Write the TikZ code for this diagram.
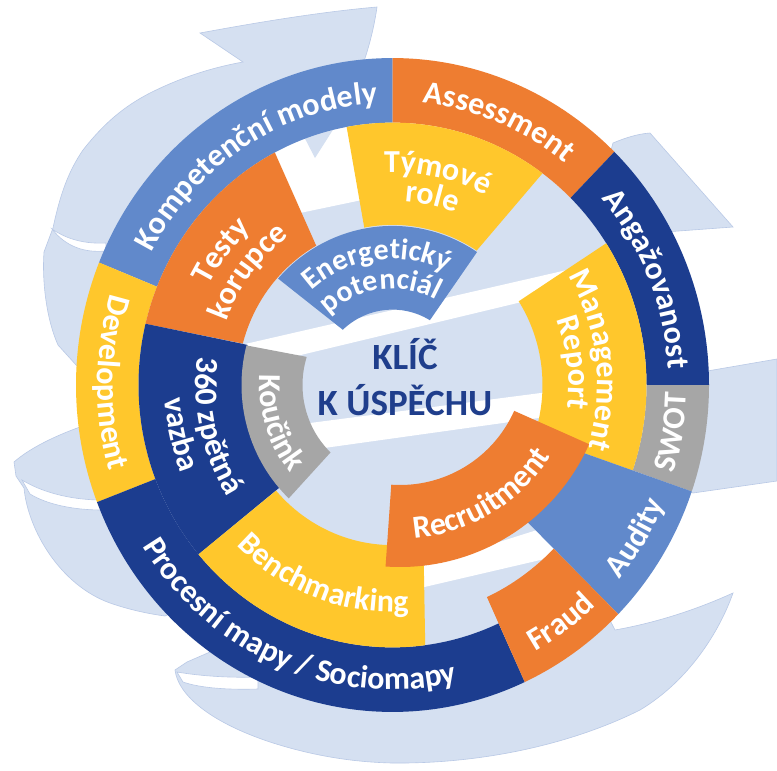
\documentclass[tikz,border=0pt]{standalone}
\usepackage{fontspec}
\setmainfont{Carlito}
\usetikzlibrary{decorations.text}
\definecolor{mblue}{HTML}{6189CB}
\definecolor{navy}{HTML}{1C3D8F}
\definecolor{orng}{HTML}{EE7D31}
\definecolor{yell}{HTML}{FFC72C}
\definecolor{grey}{HTML}{A6A6A6}
\definecolor{lblue}{HTML}{D5E0F1}
\definecolor{ledge}{HTML}{B9C9E6}
\definecolor{ctext}{HTML}{1F3E8C}
\newcommand\lbl{\fontsize{32}{32}\selectfont\bfseries}
\newcommand\lblsmall{\fontsize{30}{30}\selectfont\bfseries}
\tikzset{
  arclabel/.style={decorate, decoration={text along path, text align=center, text color=white, text={|\lbl|#1}}},
  arclabelsmall/.style={decorate, decoration={text along path, text align=center, text color=white, text={|\lblsmall|#1}}},
  ribbon/.style={fill=lblue, draw=ledge, line width=0.6pt},
  fold/.style={fill=white, draw=ledge, line width=0.6pt},
}
% style, outer start, outer end, outer r, inner start, inner end, inner r
\newcommand\ringseg[7]{\fill[#1] (#2:#4) arc[start angle=#2, end angle=#3, radius=#4] -- (#5:#7) arc[start angle=#5, end angle=#6, radius=#7] -- cycle;}
\newcommand\cwlabel[3]{\path[arclabel={#3}] ({#2+70}:#1) arc[start angle={#2+70}, end angle={#2-70}, radius=#1];}
\newcommand\cwlabelsmall[3]{\path[arclabelsmall={#3}] ({#2+70}:#1) arc[start angle={#2+70}, end angle={#2-70}, radius=#1];}
\newcommand\ccwlabel[3]{\path[arclabel={#3}] ({#2-70}:#1) arc[start angle={#2-70}, end angle={#2+70}, radius=#1];}
\begin{document}
\begin{tikzpicture}[x=1pt,y=1pt]
\useasboundingbox (0,0) rectangle (777,-771);
\fill[white] (0,0) rectangle (777,-771);
% ---------- background swirl (screen coordinates) ----------
\begin{scope}[yscale=-1]
  % top-left ribbon with arrow head
  \filldraw[ribbon] (77,366) -- (58,345) .. controls (46,318) and (42,280) .. (44,252) -- (53,228)
    .. controls (60,195) and (68,172) .. (83,150) .. controls (105,122) and (125,106) .. (150,93)
    .. controls (180,78) and (210,68) .. (243,62)
    -- (200,33) .. controls (260,22) and (320,12) .. (377,7)
    .. controls (368,70) and (340,120) .. (315,158) -- (302,124) -- (250,125) -- (170,180) -- (110,260) -- (95,340) -- cycle;
  \filldraw[fold] (52,229) .. controls (68,240) and (86,244) .. (106,243) -- (106,251) .. controls (85,253) and (66,247) .. (52,229) -- cycle;
  % left ribbon
  \filldraw[ribbon] (80,427) .. controls (55,436) and (30,448) .. (14,462) -- (16,476) -- (24,488)
    .. controls (28,530) and (60,585) .. (110,603) .. controls (130,610) and (150,614) .. (165,616)
    -- (200,600) -- (110,430) -- cycle;
  \filldraw[fold] (22,480) .. controls (45,494) and (75,500) .. (102,500) -- (102,510) .. controls (75,510) and (48,505) .. (30,494) -- cycle;
  % bottom ribbon
  \filldraw[ribbon] (175,670) .. controls (178,695) and (210,722) .. (270,742) .. controls (310,755) and (350,762) .. (392,763)
    .. controls (480,764) and (570,745) .. (640,710) .. controls (690,680) and (720,630) .. (733,593)
    .. controls (700,608) and (660,622) .. (615,630) -- (598,597) -- (492,666) -- (392,684) -- (293,666) -- (226,630) -- (210,652) -- (187,662) -- cycle;
  \filldraw[fold] (177,672) .. controls (200,676) and (230,678) .. (258,677) -- (258,689) .. controls (228,690) and (200,688) .. (183,682) -- cycle;
  % right ribbons
  \filldraw[ribbon] (690,374) -- (777,359) -- (777,481) -- (693,493) -- (650,480) -- (660,400) -- cycle;
  \filldraw[ribbon] (600,190) -- (613,143) .. controls (625,138) and (637,134) .. (650,133) -- (733,227) -- (665,232) -- (640,250) -- cycle;
  % inside of the wheel
  \begin{scope}
    \clip (392.5,385) ellipse [x radius=254, y radius=262.4];
    \fill[lblue] (392.5,385) ellipse [x radius=254, y radius=262.4];
    \fill[white] (100,0) -- (700,0) -- (700,129) -- (100,255) -- cycle;
    \fill[white] (100,377.4) -- (700,239.4) -- (700,259.2) -- (100,403.2) -- cycle;
    \fill[white] (100,450.3) -- (700,372.3) -- (700,395.4) -- (100,479.4) -- cycle;
    \fill[white] (300,604.9) -- (700,478.5) -- (700,522.8) -- (300,616) -- cycle;
  \end{scope}
  \fill[lblue] (298,125) -- (336,125) -- (315,158) -- cycle;
\end{scope}
% ---------- wheel ----------
\begin{scope}[shift={(392.5,-385)}, yscale=1.033]
  % outer ring
  \ringseg{mblue}{90}{158}{316.5}{158}{90}{254}
  \ringseg{yell}{158}{201}{316.5}{201}{158}{254}
  \ringseg{navy}{201}{294.7}{316.5}{294.7}{201}{254}
  \ringseg{orng}{45.5}{90}{316.5}{90}{45.5}{254}
  \ringseg{navy}{0}{45.5}{316.5}{45.5}{0}{254}
  \ringseg{grey}{-19}{0}{316.5}{0}{-19}{254}
  % middle ring
  \ringseg{orng}{117.6}{166.5}{254}{165}{119.5}{155}
  \ringseg{navy}{166.5}{220.2}{254}{221.3}{165}{150}
  \ringseg{yell}{220.2}{277.4}{254}{281.5}{221.3}{155}
  \ringseg{yell}{53.8}{100.4}{254}{100.5}{57.1}{155}
  \ringseg{yell}{-19}{32.7}{254}{32.7}{-19}{150}
  \ringseg{mblue}{-44.5}{-19}{316.5}{-19}{-44.5}{185}
  \ringseg{orng}{-65.3}{-44.5}{316.5}{-44.5}{-65.3}{226}
  % inner pieces
  \ringseg{mblue}{56.7}{138}{154}{132.9}{59.2}{73}
  \ringseg{grey}{165.3}{226.6}{151}{226.5}{162.4}{90}
  % labels
  \cwlabel{273}{122}{Kompetenční modely}
  \cwlabel{275}{68}{Assessment}
  \cwlabel{276}{22.5}{Angažovanost}
  \ccwlabel{294}{-9.5}{SWOT}
  \ccwlabel{295}{-32}{Audity}
  \ccwlabel{295}{-54.5}{Fraud}
  \ccwlabel{295}{247.7}{Procesní mapy / Sociomapy}
  \ccwlabel{295}{179.5}{Development}
  \cwlabel{207}{142}{Testy}
  \cwlabel{177}{142}{korupce}
  \cwlabel{206}{78}{Týmové}
  \cwlabel{178}{78}{role}
  \cwlabel{205}{7}{Management}
  \cwlabel{176}{7}{Report}
  \ccwlabel{197}{193}{360 zpětná}
  \ccwlabel{228}{193}{vazba}
  \ccwlabel{220}{250}{Benchmarking}
  \cwlabelsmall{122}{97.5}{Energetický}
  \cwlabelsmall{93}{97.5}{potenciál}
  \ccwlabel{133}{198}{Koučink}
\end{scope}
\begin{scope}[shift={(400,-360)}]
  \ringseg{orng}{266}{336}{207}{336}{266}{125}
  \ccwlabel{179}{301}{Recruitment}
\end{scope}
\node[font=\fontsize{37}{46}\selectfont\bfseries, text=ctext, align=center] (klic) at (405,-377) {KLÍČ\\K ÚSPĚCHU};
\end{tikzpicture}
\end{document}
